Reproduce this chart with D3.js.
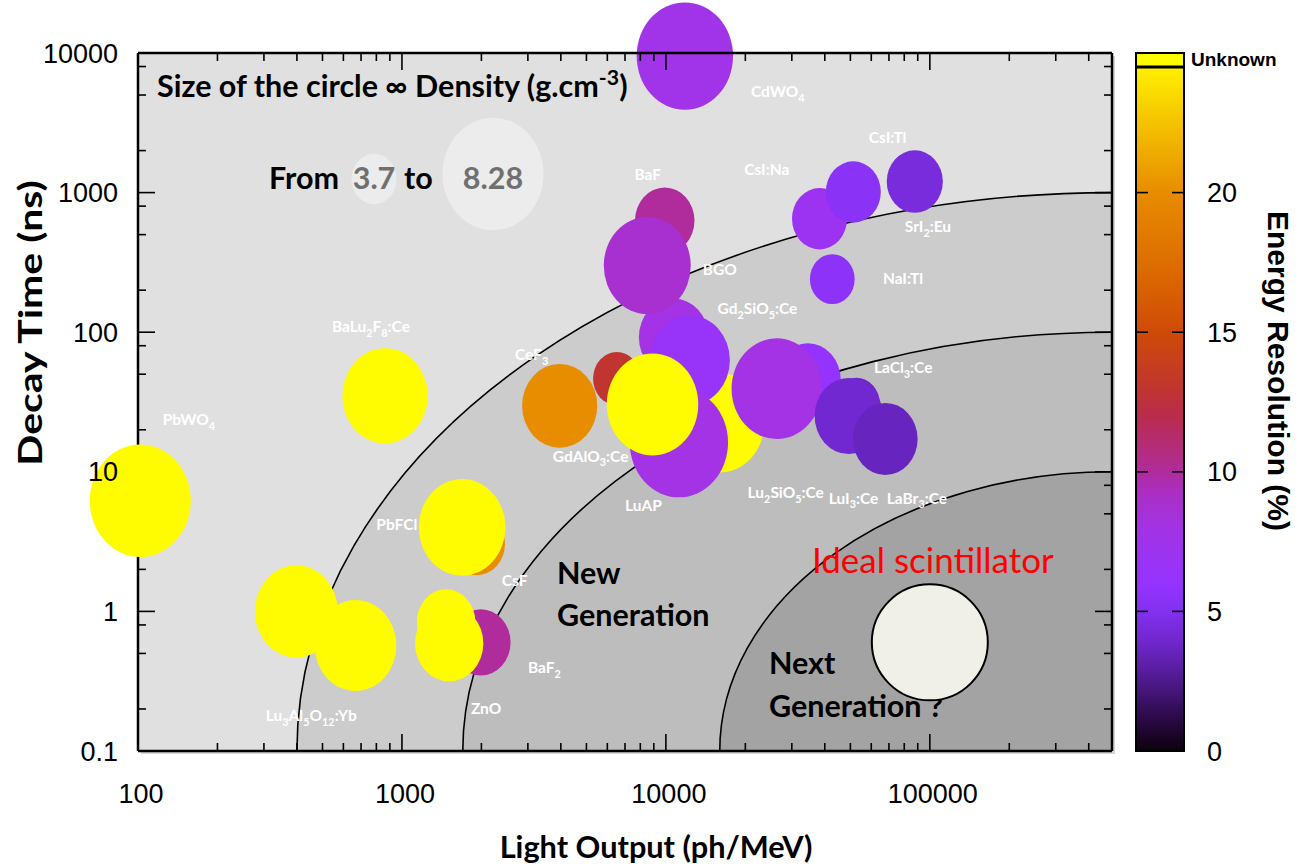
<!DOCTYPE html>
<html><head><meta charset="utf-8">
<script src="https://cdn.jsdelivr.net/npm/d3@7"></script>
<style>body{margin:0;background:#fff}</style>
</head><body><svg id="chart" width="1301" height="864"></svg>
<script>
// ---------------- DATA ----------------
const bubbleNames = ["CdWO4","BaF2 slow","Gd2SiO5:Ce","BGO","CsI:Na","CsI:Tl","SrI2:Eu","NaI:Tl","PbWO4","BaLu2F8:Ce","CsF","PbFCl","Lu3Al5O12:Yb","LuAG-2","BaF2 fast","ZnO a","ZnO b","CeF3","GdAlO3:Ce","LaCl-like","LuAG:Pr","Lu2SiO5:Ce","LYSO","LuAP","LuYAP","LaCl3:Ce","LuI3:Ce","LaBr3:Ce"];
const lightOutput = [11800, 9900, 10700, 8500, 38200, 51300, 87700, 42700, 102, 863, 1920, 1690, 398, 667, 1990, 1470, 1510, 3960, 6520, 34500, 16000, 26300, 12300, 11200, 8900, 52700, 49300, 67800];
const decayTime   = [9500, 630, 92, 300, 650, 1010, 1200, 240, 6.2, 35, 3.06, 4.0, 1.0, 0.57, 0.6, 0.84, 0.59, 29.7, 46.5, 45.5, 22.4, 39.4, 63, 16.2, 30.4, 30.6, 25.1, 17.2];
const density     = [7.9, 4.88, 5.7, 7.13, 4.51, 4.51, 4.6, 3.67, 8.28, 7.0, 4.64, 7.11, 6.8, 6.7, 4.88, 4.8, 5.6, 6.16, 3.9, 5.4, 7.3, 7.4, 6.6, 8.06, 7.5, 3.86, 5.6, 5.3];
const resolution  = [7.7, 10, 8, 8.8, 7, 5.4, 4.4, 5.6, null, null, 20, null, null, null, 10, null, null, 20, 13, 6, null, 8, 6.5, 8, null, 3.9, 4.0, 3.6];

const labelTexts = ["CdWO_4","BaF","CsI:Na","CsI:Tl","SrI_2:Eu","NaI:Tl","BGO","Gd_2SiO_5:Ce","BaLu_2F_8:Ce","CeF_3","GdAlO_3:Ce","LuAP","PbFCl","LaCl_3:Ce","Lu_2SiO_5:Ce","LuI_3:Ce","LaBr_3:Ce","PbWO_4","CsF","BaF_2","ZnO","Lu_3Al_5O_12:Yb"];
const labelLight = [21000, 7600, 19800, 58700, 80400, 66400, 13800, 15700, 543, 2680, 3730, 7000, 800, 61400, 20400, 41400, 68700, 124, 2390, 3000, 1825, 305];
const labelDecay = [4800, 1230, 1340, 2270, 522, 221, 257, 135, 100, 63, 11.8, 5.2, 3.8, 51, 6.5, 5.9, 5.9, 21.6, 1.52, 0.36, 0.184, 0.164];

const regionLight = [400, 1700, 16000];   // where each boundary meets 0.1 ns
const regionDecay = [1000, 100, 10];      // where each boundary meets the right edge
const xTickValues = [100, 1000, 10000, 100000];
const xTickLabels = ["100", "1000", "10000", "100000"];
const yTickValues = [0.1, 1, 10, 100, 1000, 10000];
const yTickLabels = ["0.1", "1", "10", "100", "1000", "10000"];
const cbTickValues = [0, 5, 10, 15, 20];
const densityLegend = [3.7, 8.28];
const idealLight = [100000];
const idealDecay = [0.6];

// colour map of the energy-resolution bar
const cbStops  = [0, 1, 2, 3, 4, 5, 6, 7, 8, 9, 10, 11, 12, 13, 15, 17, 20, 22, 24.5];
const cbColors = ["#0d000d","#27083f","#411471","#5b1ea4","#7128d0","#8331ef","#9433ff","#9c33f2","#a333e4","#a92fcc","#b02c9c","#b52c74","#ba2c4c","#c03530","#cf4a08","#db6800","#e88c00","#f2b800","#fff000"];
const unknownColor = "#fffb00";

// ---------------- LAYOUT ----------------
const svg = d3.select("#chart");
const P = {left: 138, right: 1112, top: 53, bottom: 751};
const x = d3.scaleLog().domain([100, 490000]).range([P.left, P.right]);
const y = d3.scaleLog().domain([0.1, 10000]).range([P.bottom, P.top]);
const cb = {left: 1136, right: 1184};
const cy = d3.scaleLinear().domain([0, 25]).range([P.bottom, P.top]);
const cbMax = 24.5;
const color = d3.scaleLinear().domain(cbStops).range(cbColors).clamp(true);
const kx = 6.1, ky = 6.8;  // ellipse radii per g/cm3
const CAL = "Lato, 'Open Sans', sans-serif";
const ARI = "'Liberation Sans', Arial, sans-serif";

function rich(sel, str) {
  const parts = str.split(/([_^]-?\d+)/).filter(s => s.length);
  let shift = 0;
  parts.forEach(p => {
    let t = p, fs = "1em", target = 0;
    if (p[0] === "_" || p[0] === "^") {
      t = p.slice(1); fs = "0.7em";
      target = p[0] === "_" ? 0.3 : -0.4;
    }
    const ts = sel.append("tspan").attr("font-size", fs).text(t);
    const dyv = target - shift;
    if (dyv !== 0) ts.attr("dy", (dyv * parseFloat(sel.attr("data-fs"))) + "px");
    shift = target;
  });
}
function calText(g, px, py, str, size, opts = {}) {
  const t = g.append("text")
    .attr("transform", `translate(${px},${py}) scale(1,${opts.sy || 1})`)
    .attr("font-family", CAL).attr("font-weight", opts.weight || "bold")
    .attr("font-size", size).attr("data-fs", size)
    .attr("fill", opts.fill || "#000")
    .attr("text-anchor", opts.anchor || "start");
  rich(t, str);
  return t;
}

// shadow + bands
svg.append("rect").attr("x", P.left + 3).attr("y", P.top + 3)
  .attr("width", P.right - P.left).attr("height", P.bottom - P.top).attr("fill", "#d6d6d6");
const bandColors = ["#e0e0e0", "#cccccc", "#bdbdbd", "#a3a3a3"];
svg.append("rect").attr("x", P.left).attr("y", P.top)
  .attr("width", P.right - P.left).attr("height", P.bottom - P.top).attr("fill", bandColors[0]);
function arcPath(lx, dy) {
  const px = x(lx), py = y(dy);
  return `M${px},${P.bottom} A${P.right - px},${P.bottom - py} 0 0 1 ${P.right},${py}`;
}
regionLight.forEach((lx, i) => {
  svg.append("path").attr("d", arcPath(lx, regionDecay[i]) + ` L${P.right},${P.bottom} Z`)
    .attr("fill", bandColors[i + 1]);
});
regionLight.forEach((lx, i) => {
  svg.append("path").attr("d", arcPath(lx, regionDecay[i]))
    .attr("fill", "none").attr("stroke", "#000").attr("stroke-width", 1.6);
});

// ticks
const xMinor = [], yMinor = [];
xTickValues.forEach(d => { for (let m = 2; m <= 9; m++) if (d * m < 490000) xMinor.push(d * m); });
yTickValues.slice(0, -1).forEach(d => [2, 5, 8].forEach(m => yMinor.push(d * m)));
const axes = svg.append("g").attr("stroke", "#000").attr("stroke-width", 1.6);
const MAJ = 17, MIN = 8;
function tickSet(g, side) {
  const xs = [...xTickValues.map(v => [v, MAJ]), ...xMinor.map(v => [v, MIN])];
  const ys = [...yTickValues.map(v => [v, MAJ]), ...yMinor.map(v => [v, MIN])];
  if (side === "bottom") xs.forEach(([v, l]) => g.append("line").attr("x1", x(v)).attr("x2", x(v)).attr("y1", P.bottom).attr("y2", P.bottom - l));
  if (side === "top") xs.forEach(([v, l]) => g.append("line").attr("x1", x(v)).attr("x2", x(v)).attr("y1", P.top).attr("y2", P.top + l));
  if (side === "left") ys.forEach(([v, l]) => g.append("line").attr("y1", y(v)).attr("y2", y(v)).attr("x1", P.left).attr("x2", P.left + l));
  if (side === "right") ys.forEach(([v, l]) => g.append("line").attr("y1", y(v)).attr("y2", y(v)).attr("x1", P.right).attr("x2", P.right - l));
}
["bottom", "left", "right"].forEach(s => tickSet(axes, s));
const frame = svg.append("g").attr("stroke", "#000").attr("stroke-width", 2.5);
frame.append("line").attr("x1", P.left).attr("x2", P.left).attr("y1", P.top).attr("y2", P.bottom);
frame.append("line").attr("x1", P.left).attr("x2", P.right).attr("y1", P.bottom).attr("y2", P.bottom);
frame.append("line").attr("x1", P.right).attr("x2", P.right).attr("y1", P.top).attr("y2", P.bottom);

// bubbles
const bubbles = bubbleNames.map((n, i) => ({n, lo: lightOutput[i], dt: decayTime[i], d: density[i], r: resolution[i]}));
svg.append("g").selectAll("ellipse").data(bubbles).join("ellipse")
  .attr("cx", d => x(d.lo)).attr("cy", d => y(d.dt))
  .attr("rx", d => kx * d.d).attr("ry", d => ky * d.d)
  .attr("fill", d => d.r === null ? unknownColor : color(d.r));

// top axis over bubbles
const topAxis = svg.append("g").attr("stroke", "#000").attr("stroke-width", 1.6);
tickSet(topAxis, "top");
svg.append("line").attr("x1", P.left).attr("x2", P.right).attr("y1", P.top).attr("y2", P.top)
  .attr("stroke", "#000").attr("stroke-width", 2.5);

// bubble labels
const lab = svg.append("g");
labelTexts.forEach((t, i) => calText(lab, x(labelLight[i]), y(labelDecay[i]), t, 15.5, {fill: "#fff"}));

// tick labels
const tl = svg.append("g").attr("font-family", ARI).attr("font-size", 27).attr("fill", "#000");
xTickValues.forEach((v, i) => tl.append("text").attr("x", x(v) + 3).attr("y", 803).attr("text-anchor", "middle").text(xTickLabels[i]));
yTickValues.forEach((v, i) => tl.append("text").attr("x", 118).attr("y", y(v) + 9.5).attr("text-anchor", "end").text(yTickLabels[i]));

// axis titles
calText(svg, 656, 858, "Light Output (ph/MeV)", 30.7, {anchor: "middle"});
svg.append("text").attr("transform", `translate(42,323) rotate(-90) scale(1.28,1)`)
  .attr("font-family", CAL).attr("font-weight", "bold").attr("font-size", 32)
  .attr("text-anchor", "middle").text("Decay Time (ns)");

// density legend
const ann = svg.append("g");
calText(ann, 157, 97, "Size of the circle \u221E Density (g.cm^-3)", 30.5);
const legCx = [374, 493], legCy = [179, 174];
ann.selectAll("ellipse").data(densityLegend).join("ellipse")
  .attr("cx", (d, i) => legCx[i]).attr("cy", (d, i) => legCy[i])
  .attr("rx", d => kx * d).attr("ry", d => ky * d).attr("fill", "#ececec");
calText(ann, 269, 189, "From", 30.5);
calText(ann, 404, 189, "to", 30.5);
densityLegend.forEach((d, i) => calText(ann, legCx[i], 189, String(d), 30.5, {fill: "#707070", anchor: "middle"}));

// region texts
calText(ann, 557, 584, "New", 30.5);
calText(ann, 557, 626, "Generation", 30.5);
calText(ann, 769, 674, "Next", 30.5);
calText(ann, 769, 717, "Generation ?", 30.5);
calText(ann, 812, 573, "Ideal scintillator", 35, {weight: "normal", fill: "#ff0000"});

// ideal scintillator
svg.append("g").selectAll("circle").data(idealLight).join("circle")
  .attr("cx", d => x(d)).attr("cy", (d, i) => y(idealDecay[i])).attr("r", 58)
  .attr("fill", "#f0f0e8").attr("stroke", "#000").attr("stroke-width", 2);

// colour bar
const defs = svg.append("defs");
const grad = defs.append("linearGradient").attr("id", "cbgrad").attr("x1", 0).attr("y1", 1).attr("x2", 0).attr("y2", 0);
cbStops.forEach((v, i) => grad.append("stop").attr("offset", v / cbMax).attr("stop-color", cbColors[i]));
svg.append("rect").attr("x", cb.left).attr("y", cy(25)).attr("width", cb.right - cb.left)
  .attr("height", cy(cbMax) - cy(25)).attr("fill", unknownColor);
svg.append("rect").attr("x", cb.left).attr("y", cy(cbMax)).attr("width", cb.right - cb.left)
  .attr("height", cy(0) - cy(cbMax)).attr("fill", "url(#cbgrad)");
svg.append("line").attr("x1", cb.left).attr("x2", cb.right).attr("y1", cy(cbMax)).attr("y2", cy(cbMax))
  .attr("stroke", "#000").attr("stroke-width", 3);
const cbt = svg.append("g").attr("stroke", "#000").attr("stroke-width", 1.6);
cbTickValues.forEach(v => {
  cbt.append("line").attr("x1", cb.left).attr("x2", cb.left + 12).attr("y1", cy(v)).attr("y2", cy(v));
  cbt.append("line").attr("x1", cb.right - 12).attr("x2", cb.right).attr("y1", cy(v)).attr("y2", cy(v));
});
svg.append("rect").attr("x", cb.left).attr("y", cy(25)).attr("width", cb.right - cb.left)
  .attr("height", cy(0) - cy(25)).attr("fill", "none").attr("stroke", "#000").attr("stroke-width", 2);
cbTickValues.forEach(v => tl.append("text").attr("x", 1207).attr("y", cy(v) + 9.5).text(String(v)));
svg.append("text").attr("x", 1191).attr("y", 66).attr("font-family", ARI).attr("font-weight", "bold")
  .attr("font-size", 19).text("Unknown");
svg.append("text").attr("transform", "translate(1268,371) rotate(90)")
  .attr("font-family", ARI).attr("font-weight", "bold").attr("font-size", 30)
  .attr("text-anchor", "middle").text("Energy Resolution (%)");
</script></body></html>
